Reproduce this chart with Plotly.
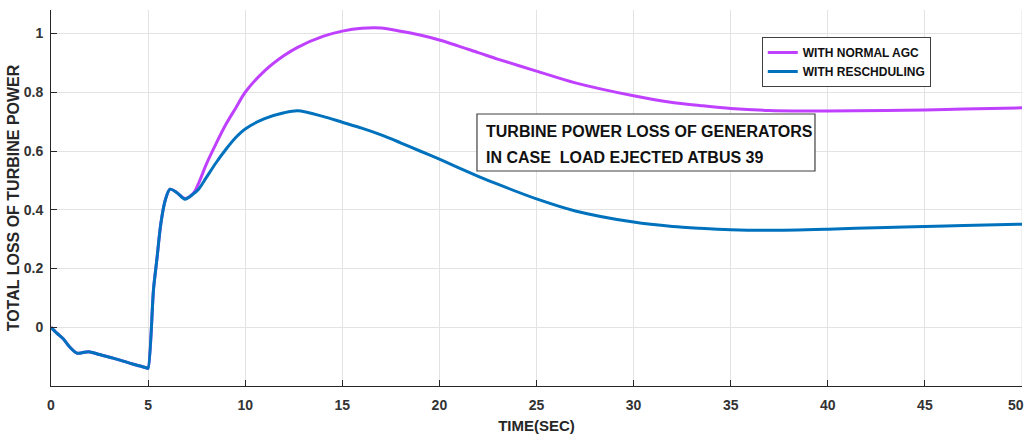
import plotly.graph_objects as go

# Simulation time (s)
time_s = [0, 0.3, 0.64, 1.0, 1.33, 1.6, 1.93, 2.5, 3.2, 4.08, 4.6, 4.95, 5.0,
          5.28, 5.45, 5.66, 5.89, 6.13, 6.47, 6.9, 7.33, 7.6, 8.0, 8.5, 9.0,
          9.5, 10, 11, 12, 12.7, 14, 15, 16, 17, 18, 19, 20, 22, 23, 25,
          27, 30, 32, 33.4, 35, 37, 40, 43, 45, 47, 50]

# Total turbine power loss with the normal AGC
normal_agc = [0, -0.02, -0.04, -0.07, -0.088, -0.087, -0.083, -0.093, -0.105,
              -0.123, -0.132, -0.139, -0.14, 0.13, 0.23, 0.355, 0.434, 0.47,
              0.459, 0.438, 0.456, 0.49, 0.555, 0.625, 0.69, 0.745, 0.8,
              0.873, 0.925, 0.953, 0.99, 1.008, 1.018, 1.019, 1.008, 0.995,
              0.978, 0.935, 0.913, 0.872, 0.832, 0.788, 0.765, 0.755, 0.745,
              0.738, 0.736, 0.738, 0.74, 0.743, 0.747]

# Total turbine power loss with generation rescheduling
rescheduling = [0, -0.02, -0.04, -0.07, -0.088, -0.087, -0.083, -0.093, -0.105,
                -0.123, -0.132, -0.139, -0.14, 0.13, 0.23, 0.355, 0.434, 0.47,
                0.459, 0.436, 0.454, 0.47, 0.51, 0.56, 0.605, 0.645, 0.675,
                0.71, 0.73, 0.737, 0.718, 0.698, 0.678, 0.655, 0.628, 0.6,
                0.572, 0.514, 0.487, 0.437, 0.396, 0.358, 0.343, 0.337, 0.332,
                0.33, 0.334, 0.34, 0.343, 0.346, 0.351]

x_ticks = [0, 5, 10, 15, 20, 25, 30, 35, 40, 45]
y_ticks = [0, 0.2, 0.4, 0.6, 0.8, 1]
y_tick_text = ["0", "0.2", "0.4", "0.6", "0.8", "1"]

FONT = "Liberation Sans, Arial, sans-serif"
TXT = "#262626"

fig = go.Figure()
fig.add_trace(go.Scatter(x=time_s, y=normal_agc, mode="lines",
                         name="<b>WITH NORMAL AGC</b>",
                         line=dict(color="#BF40FF", width=3,
                                   shape="spline", smoothing=0.8)))
fig.add_trace(go.Scatter(x=time_s, y=rescheduling, mode="lines",
                         name="<b>WITH RESCHDULING</b>",
                         line=dict(color="#0072BD", width=3,
                                   shape="spline", smoothing=0.8)))

axis_common = dict(showgrid=True, gridcolor="#E3E3E3", gridwidth=1,
                   zeroline=False, showline=True, linecolor=TXT, linewidth=1,
                   ticks="inside", ticklen=6, tickcolor=TXT, automargin=False,
                   tickfont=dict(family=FONT, size=14, color="#333333"))

fig.update_xaxes(range=[0, 50], tickvals=x_ticks,
                 ticktext=[f"<b>{v}</b>" for v in x_ticks],
                 ticklabelstandoff=6,
                 title=dict(text="<b>TIME(SEC)</b>", standoff=12,
                            font=dict(family=FONT, size=15, color=TXT)),
                 **axis_common)
fig.update_yaxes(range=[-0.2, 1.08], tickvals=y_ticks,
                 ticktext=[f"<b>{t}</b>" for t in y_tick_text],
                 ticklabelstandoff=4,
                 title=dict(text="<b>TOTAL LOSS OF TURBINE POWER</b>", standoff=0,
                            font=dict(family=FONT, size=16, color=TXT)),
                 **axis_common)

# Gridline and label for the last x tick at the right edge of the plot
fig.add_vline(x=50, line=dict(color="#E3E3E3", width=1), layer="below")
fig.add_annotation(x=50, xref="x", y=0, yref="paper", yanchor="top",
                   xanchor="right", xshift=4, yshift=-9,
                   showarrow=False, text="<b>50</b>",
                   font=dict(family=FONT, size=14, color="#333333"))

# Caption box inside the plot
fig.add_shape(type="rect", xref="paper", yref="paper",
              x0=0.4387, x1=0.7868, y0=0.5718, y1=0.7234,
              line=dict(color="#404040", width=1.2), fillcolor="white", layer="above")
fig.add_annotation(xref="paper", yref="paper", x=0.4459, y=0.678,
                   xanchor="left", yanchor="middle", showarrow=False,
                   text="<b>TURBINE POWER LOSS OF GENERATORS</b>",
                   font=dict(family=FONT, size=16, color="#111111"))
fig.add_annotation(xref="paper", yref="paper", x=0.4459, y=0.609,
                   xanchor="left", yanchor="middle", showarrow=False,
                   text="<b>IN CASE  LOAD EJECTED ATBUS 39</b>",
                   font=dict(family=FONT, size=16, color="#111111"))

fig.update_layout(
    width=1028, height=434,
    margin=dict(l=51, r=6, t=10, b=48),
    plot_bgcolor="white", paper_bgcolor="white",
    showlegend=True,
    legend=dict(x=0.732, y=0.928, xanchor="left", yanchor="top",
                bgcolor="white", bordercolor="#404040", borderwidth=1,
                font=dict(family=FONT, size=12, color="#111111"),
                tracegroupgap=0, itemwidth=30),
)

fig.write_html("out.html")
